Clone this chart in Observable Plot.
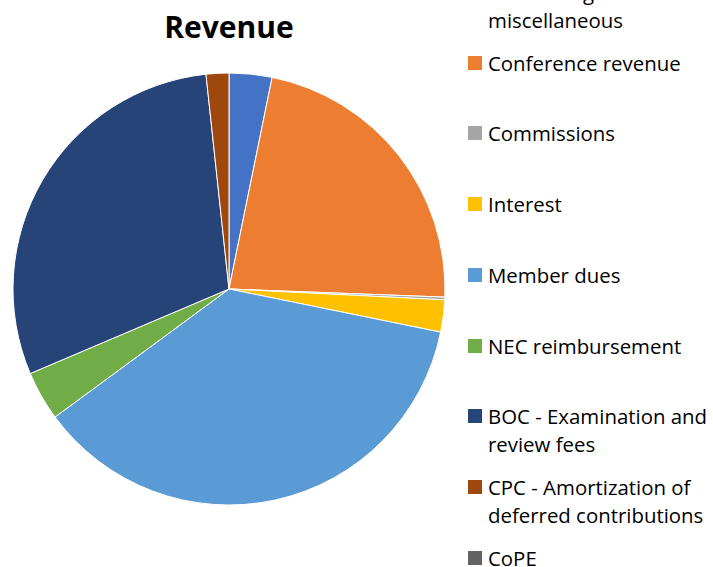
<!DOCTYPE html>
<html>
<head>
<meta charset="utf-8">
<script src="https://cdn.jsdelivr.net/npm/d3@7"></script>
<script src="https://cdn.jsdelivr.net/npm/@observablehq/plot@0.6"></script>
<style>
  html, body { margin: 0; padding: 0; background: #fff; overflow: hidden; }
  #wrap { position: relative; width: 713px; height: 567px; overflow: hidden; font-family: "Open Sans", Lato, sans-serif; }
  #title { position: absolute; left: 0; width: 458px; top: 7px; text-align: center; font-weight: bold; font-size: 30px; line-height: 40px; color: #000; }
  #chart { position: absolute; left: 0; top: 0; }
  .item { position: absolute; left: 468px; font-size: 20.4px; line-height: 28px; color: #000; white-space: pre-line; padding-left: 20px; }
  .sw { position: absolute; left: 0; top: 7px; width: 14px; height: 14px; }
</style>
</head>
<body>
<div id="wrap">
  <div id="chart"></div>
  <div id="title">Revenue</div>
  <div id="legend"></div>
</div>
<script>
const categories = [
  "Advertising and\nmiscellaneous",
  "Conference revenue",
  "Commissions",
  "Interest",
  "Member dues",
  "NEC reimbursement",
  "BOC - Examination and\nreview fees",
  "CPC - Amortization of\ndeferred contributions",
  "CoPE"
];
const values = [3.2, 22.4, 0.2, 2.4, 36.7, 3.7, 29.7, 1.7, 0];
const colors = ["#4472C4", "#ED7D31", "#A5A5A5", "#FFC000", "#5B9BD5", "#70AD47", "#264478", "#9E480E", "#636363"];

const data = categories.map((c, i) => ({category: c, value: values[i], color: colors[i]}));

function pieMark(index, scales, vals, dimensions, context) {
  const cx = scales.x(0), cy = scales.y(0);
  const r = Math.abs(scales.x(1) - scales.x(0));
  const arcs = d3.pie().sort(null).value(d => d.value)(data);
  const arc = d3.arc().innerRadius(0).outerRadius(r);
  const g = d3.create("svg:g").attr("transform", `translate(${cx},${cy})`);
  g.selectAll("path").data(arcs.filter(a => a.data.value > 0)).join("path")
    .attr("d", arc)
    .attr("fill", a => scales.color(a.data.category))
    .attr("stroke", "#fff")
    .attr("stroke-width", 1);
  return g.node();
}

const chart = Plot.plot({
  width: 458,
  height: 567,
  marginLeft: 13,
  marginRight: 13,
  marginTop: 73,
  marginBottom: 62,
  x: {domain: [-1, 1], axis: null},
  y: {domain: [-1, 1], axis: null},
  color: {domain: categories, range: colors},
  marks: [
    Plot.dot([[-1, -1], [1, 1]], {x: d => d[0], y: d => d[1], r: 0, fill: "none", stroke: "none"}),
    pieMark
  ]
});
document.getElementById("chart").appendChild(chart);

const legend = document.getElementById("legend");
data.forEach((d, i) => {
  const it = document.createElement("div");
  it.className = "item";
  it.style.top = (-22 + i * 70.7) + "px";
  const sw = document.createElement("span");
  sw.className = "sw";
  sw.style.background = d.color;
  it.appendChild(sw);
  it.appendChild(document.createTextNode(d.category));
  legend.appendChild(it);
});
</script>
</body>
</html>
